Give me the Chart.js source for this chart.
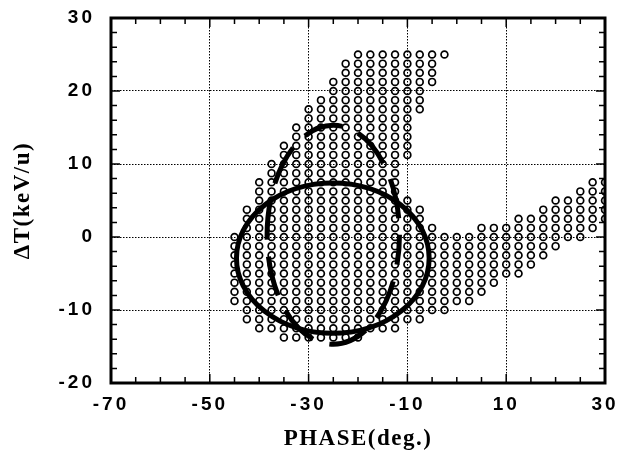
<!DOCTYPE html>
<html><head><meta charset="utf-8">
<script src="https://cdn.jsdelivr.net/npm/chart.js@4.4.0/dist/chart.umd.min.js"></script>
<style>html,body{margin:0;padding:0;background:#fff}</style>
</head><body>
<canvas id="c" width="623" height="464"></canvas>
<script>
// ---- axis ticks ----
const xTicks = [-70, -50, -30, -10, 10, 30];
const yTicks = [-20, -10, 0, 10, 20, 30];
const xMinorTicks = [-65, -60, -55, -45, -40, -35, -25, -20, -15, -5, 0, 5, 15, 20, 25];
const yMinorTicks = [28, 26, 24, 22, 18, 16, 14, 12, 8, 6, 4, 2, -2, -4, -6, -8, -12, -14, -16, -18];

// ---- accepted points: column phase, top and bottom ΔT of each run of circles (1.25 keV/u rows) ----
const colPhase  = [-45, -42.5, -40, -37.5, -35, -32.5, -30, -27.5, -25, -22.5, -20, -17.5, -15, -12.5, -10, -10, -7.5, -7.5, -5, -5, -2.5, -2.5, 0, 2.5, 5, 7.5, 10, 12.5, 15, 17.5, 20, 22.5, 25, 27.5, 30];
const colTop    = [0, 3.75, 7.5, 10, 12.5, 15, 17.5, 18.75, 21.25, 23.75, 25, 25, 25, 25, 25, 5, 25, 3.75, 25, 1.25, 25, 0, 0, 0, 1.25, 1.25, 1.25, 2.5, 2.5, 3.75, 5, 5, 6.25, 7.5, 7.5];
const colBottom = [-8.75, -11.25, -12.5, -12.5, -13.75, -13.75, -13.75, -13.75, -13.75, -13.75, -13.75, -12.5, -12.5, -12.5, 11.25, -11.25, 17.5, -11.25, 21.25, -10, 25, -10, -8.75, -8.75, -7.5, -6.25, -5, -5, -3.75, -2.5, -1.25, 0, 0, 1.25, 2.5];
const rowStep = 1.25;

// ---- ellipses (solid, dashed) ----
const ellipseCx = [-25.1, -25.0];
const ellipseCy = [-2.9, 0.3];
const ellipseRx = [19.5, 13.4];
const ellipseRy = [10.3, 15.0];

const dots = [];
colPhase.forEach((x, i) => {
  const n = Math.round((colTop[i] - colBottom[i]) / rowStep);
  for (let k = 0; k <= n; k++) dots.push({x: x, y: colTop[i] - k * rowStep});
});

const canvas = document.getElementById('c');
const ctx = canvas.getContext('2d');
ctx.letterSpacing = '3px';

function patchTitle(scale) {
  if (scale._titlePatched) return;
  scale._titlePatched = true;
  const orig = scale.drawTitle;
  scale.drawTitle = function () {
    const c = this.ctx, old = c.letterSpacing;
    c.letterSpacing = '1.5px';
    orig.call(this);
    c.letterSpacing = old;
  };
}

const framePlugin = {
  id: 'frame',
  beforeDraw(chart) {
    chart.ctx.letterSpacing = '3px';
    patchTitle(chart.scales.x); patchTitle(chart.scales.y);
  },
  afterDatasetsDraw(chart) {
    const c = chart.ctx, xs = chart.scales.x, ys = chart.scales.y, a = chart.chartArea;
    c.save();
    c.beginPath(); c.rect(a.left, a.top, a.right - a.left, a.bottom - a.top); c.clip();
    c.strokeStyle = '#000'; c.lineWidth = 5;
    for (let i = 0; i < ellipseCx.length; i++) {
      const px = xs.getPixelForValue(ellipseCx[i]);
      const py = ys.getPixelForValue(ellipseCy[i]);
      const rx = Math.abs(xs.getPixelForValue(ellipseCx[i] + ellipseRx[i]) - px);
      const ry = Math.abs(ys.getPixelForValue(ellipseCy[i] + ellipseRy[i]) - py);
      c.setLineDash(i === 1 ? [40, 17] : []);
      c.lineDashOffset = i === 1 ? 10 : 0;
      c.beginPath(); c.ellipse(px, py, rx, ry, 0, 0, Math.PI * 2); c.stroke();
    }
    c.restore();
  },
  afterDraw(chart) {
    const c = chart.ctx, xs = chart.scales.x, ys = chart.scales.y, a = chart.chartArea;
    c.save();
    c.strokeStyle = '#000'; c.setLineDash([]);
    c.lineWidth = 1.5;
    const tick = (vals, len, horiz) => {
      vals.forEach(v => {
        c.beginPath();
        if (horiz) {
          const p = xs.getPixelForValue(v);
          c.moveTo(p, a.bottom); c.lineTo(p, a.bottom - len);
          c.moveTo(p, a.top); c.lineTo(p, a.top + len);
        } else {
          const p = ys.getPixelForValue(v);
          c.moveTo(a.left, p); c.lineTo(a.left + len, p);
          c.moveTo(a.right, p); c.lineTo(a.right - len, p);
        }
        c.stroke();
      });
    };
    tick(xMinorTicks, 6, true); tick(xTicks, 9, true);
    tick(yMinorTicks, 6, false); tick(yTicks, 9, false);
    c.lineWidth = 3;
    c.strokeRect(a.left, a.top, a.right - a.left, a.bottom - a.top);
    c.restore();
  }
};

const tickFont = {family: 'Liberation Sans', weight: 'bold', size: 19};
const titleFont = {family: 'Liberation Serif', weight: 'bold', size: 23};

new Chart(ctx, {
  type: 'scatter',
  data: {datasets: [{
    data: dots, showLine: false, pointStyle: 'circle', pointRadius: 3.4,
    pointBorderWidth: 1.7, pointBorderColor: '#000', pointBackgroundColor: 'rgba(0,0,0,0)'
  }]},
  options: {
    responsive: false, animation: false, devicePixelRatio: 1,
    layout: {padding: {left: 0, right: 18, top: 18, bottom: 0}},
    plugins: {legend: {display: false}, tooltip: {enabled: false}},
    scales: {
      x: {
        type: 'linear', min: -70, max: 30,
        afterBuildTicks: s => { s.ticks = xTicks.map(v => ({value: v})); },
        afterFit: s => { s.height = 81; s.paddingLeft = 0; s.paddingRight = 0; },
        grid: {color: '#000', lineWidth: 1, drawTicks: false},
        border: {display: false, dash: [1.5, 1.5]},
        ticks: {color: '#000', font: tickFont, padding: 10, maxRotation: 0, autoSkip: false},
        title: {display: true, text: 'PHASE(deg.)', color: '#000', font: titleFont, padding: {top: 0, bottom: 11}}
      },
      y: {
        type: 'linear', min: -20, max: 30,
        afterBuildTicks: s => { s.ticks = yTicks.map(v => ({value: v})); },
        afterFit: s => { s.width = 111; s.paddingTop = 0; s.paddingBottom = 0; },
        grid: {color: '#000', lineWidth: 1, drawTicks: false},
        border: {display: false, dash: [1.5, 1.5]},
        ticks: {color: '#000', font: tickFont, padding: 16, autoSkip: false},
        title: {display: true, text: 'ΔT(keV/u)', color: '#000', font: titleFont, padding: {top: 9, bottom: 0}}
      }
    }
  },
  plugins: [framePlugin]
});
</script>
</body></html>
